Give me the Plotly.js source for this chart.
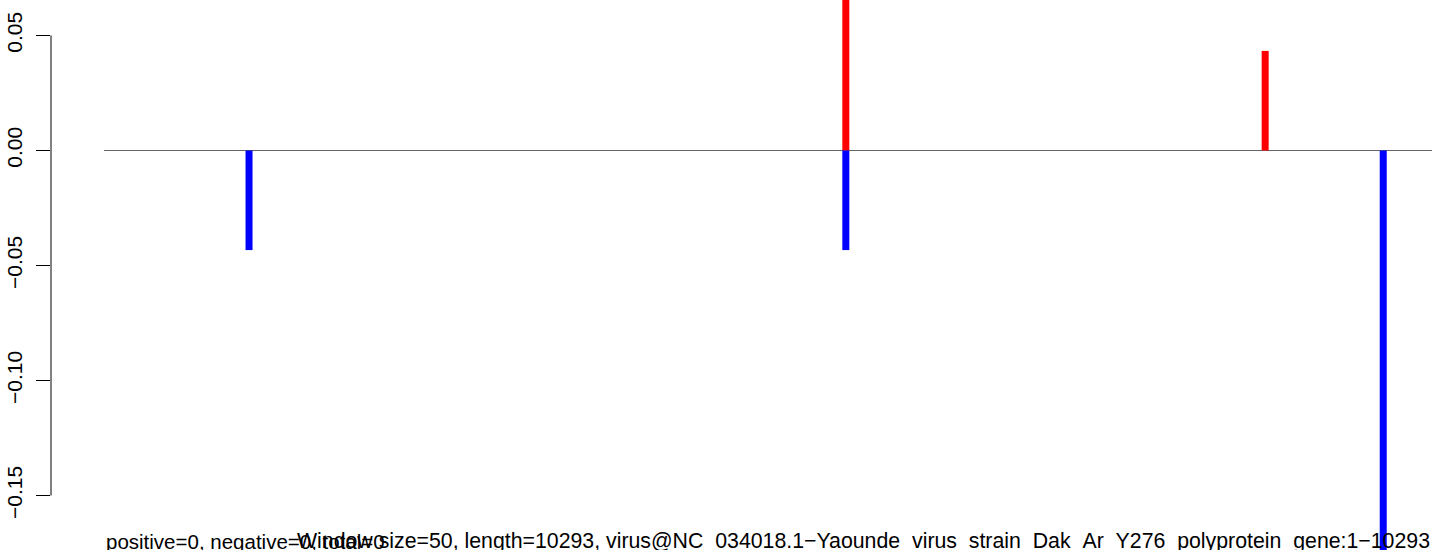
<!DOCTYPE html>
<html><head><meta charset="utf-8">
<script src="https://cdn.plot.ly/plotly-3.0.1.min.js"></script>
<style>html,body{margin:0;padding:0;background:#fff}#chart{width:1444px;height:550px}</style>
</head><body><div id="chart"></div>
<script>
// ---- data ----
const seqLength = 10293;
const posPositions = [5750, 9000];
const posValues = [0.087, 0.0433];
const negPositions = [1125, 5750, 9915];
const negValues = [-0.0433, -0.0433, -0.174];
const yTickVals = [-0.15, -0.10, -0.05, 0, 0.05];
const yTickText = ['\u22120.15', '\u22120.10', '\u22120.05', '0.00', '0.05'];
const bottomLeftText = 'positive=0, negative=0, total=0';
const bottomRightText = 'Window size=50, length=10293, virus@NC_034018.1\u2212Yaounde_virus_strain_Dak_Ar_Y276_polyprotein_gene:1\u221210293';

// ---- styling ----
const FONT = '"Liberation Sans", Arial, Helvetica, sans-serif';
const tickSize = 21;

function stems(xs, ys) {
  const X = [], Y = [];
  xs.forEach((x, i) => { X.push(x, x, null); Y.push(0, ys[i], null); });
  return { X, Y };
}
const pos = stems(posPositions, posValues);
const neg = stems(negPositions, negValues);

const traces = [
  { x: [1, seqLength], y: [0, 0], mode: 'lines', line: { color: '#666666', width: 1 }, hoverinfo: 'skip', showlegend: false },
  { x: pos.X, y: pos.Y, mode: 'lines', line: { color: '#ff0000', width: 7 }, showlegend: false, connectgaps: false },
  { x: neg.X, y: neg.Y, mode: 'lines', line: { color: '#0000ff', width: 7 }, showlegend: false, connectgaps: false }
];

const layout = {
  width: 1444, height: 550,
  margin: { l: 51, r: 0, t: 0, b: 0, pad: 0 },
  paper_bgcolor: '#ffffff', plot_bgcolor: '#ffffff',
  showlegend: false,
  xaxis: { visible: false, range: [-409.75, 10386], showgrid: false, zeroline: false },
  yaxis: {
    range: [-0.173696, 0.065435],
    tickmode: 'array', tickvals: yTickVals, ticktext: yTickText,
    tickangle: -90, ticks: 'outside', ticklen: 14, tickwidth: 1, tickcolor: '#000',
    ticklabelstandoff: 6,
    tickfont: { family: FONT, size: tickSize, color: '#000' },
    showgrid: false, zeroline: false, showline: false
  },
  shapes: [
    { type: 'line', xref: 'paper', yref: 'y', x0: 0, x1: 0, y0: yTickVals[0], y1: yTickVals[yTickVals.length - 1], line: { color: '#000', width: 1 } }
  ],
  annotations: [
    { text: bottomLeftText, xref: 'x', yref: 'paper', x: 1, y: 0, xanchor: 'left', yanchor: 'bottom', align: 'left', showarrow: false, yshift: -5, font: { family: FONT, size: 20.5, color: '#000' } },
    { text: bottomRightText, xref: 'x', yref: 'paper', x: seqLength, y: 0, xanchor: 'right', yanchor: 'bottom', align: 'right', showarrow: false, yshift: -5, font: { family: FONT, size: 21.3, color: '#000' } }
  ]
};

Plotly.newPlot('chart', traces, layout, { displayModeBar: false, staticPlot: true });
</script>
</body></html>
